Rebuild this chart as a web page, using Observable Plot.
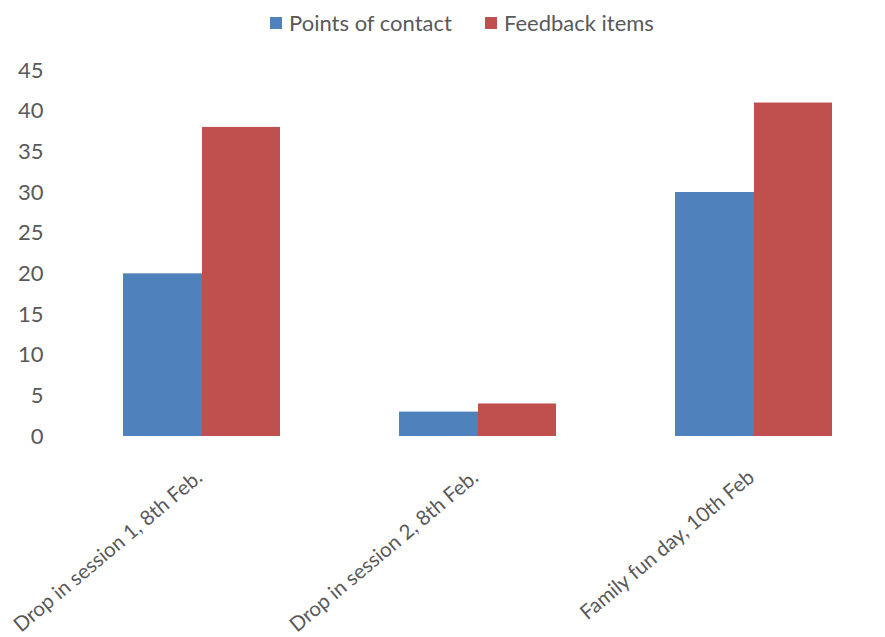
<!DOCTYPE html>
<html>
<head>
<meta charset="utf-8">
<script src="https://cdn.jsdelivr.net/npm/d3@7"></script>
<script src="https://cdn.jsdelivr.net/npm/@observablehq/plot@0.6"></script>
<style>
  html, body { margin: 0; padding: 0; background: #fff; }
  body { width: 885px; height: 637px; overflow: hidden; font-family: Lato, "Open Sans", sans-serif; }
  #legend { height: 45px; display: flex; justify-content: center; align-items: center; gap: 33px; font-size: 22px; color: #595959; padding-left: 39px; box-sizing: border-box; }
  #legend .item { display: flex; align-items: center; gap: 7px; }
  #legend .sw { width: 12px; height: 12px; display: inline-block; }
</style>
</head>
<body>
<div id="legend"></div>
<div id="chart"></div>
<script>
const categories = ["Drop in session 1, 8th Feb.", "Drop in session 2, 8th Feb.", "Family fun day, 10th Feb"];
const seriesNames = ["Points of contact", "Feedback items"];
const pointsOfContact = [20, 3, 30];
const feedbackItems = [38, 4, 41];
const yTicks = [0, 5, 10, 15, 20, 25, 30, 35, 40, 45];
const colors = ["#4F81BD", "#C0504D"];

const data = [];
categories.forEach((c, i) => {
  data.push({category: c, series: seriesNames[0], value: pointsOfContact[i]});
  data.push({category: c, series: seriesNames[1], value: feedbackItems[i]});
});

const legend = document.getElementById("legend");
seriesNames.forEach((s, i) => {
  const it = document.createElement("span");
  it.className = "item";
  it.innerHTML = `<span class="sw" style="background:${colors[i]}"></span><span>${s}</span>`;
  legend.appendChild(it);
});

const chart = Plot.plot({
  width: 885,
  height: 592,
  marginLeft: 63,
  marginRight: -6,
  marginTop: 25,
  marginBottom: 201,
  style: {fontFamily: "Lato, 'Open Sans', sans-serif", fontSize: "20px", color: "#595959", background: "#fff"},
  x: {domain: categories, padding: 0, label: null},
  y: {domain: [0, 45], label: null},
  color: {domain: seriesNames, range: colors},
  marks: [
    Plot.ruleY(yTicks, {x1: 63, x2: 885, stroke: "#d9d9d9", strokeWidth: 1.5}),
    Plot.barY(data.filter(d => d.series === seriesNames[0]), {x: "category", y: "value", fill: "series", insetLeft: 60, insetRight: 137}),
    Plot.barY(data.filter(d => d.series === seriesNames[1]), {x: "category", y: "value", fill: "series", insetLeft: 139, insetRight: 59}),
    Plot.axisY({ticks: yTicks, tickSize: 0, tickPadding: 20, label: null, fill: "#595959", fontSize: 22}),
    Plot.axisX({tickSize: 0, tickPadding: 14, tickRotate: -40, dx: -2, dy: 24, label: null, fill: "#595959", fontSize: 20.5})
  ]
});
document.getElementById("chart").appendChild(chart);
</script>
</body>
</html>
